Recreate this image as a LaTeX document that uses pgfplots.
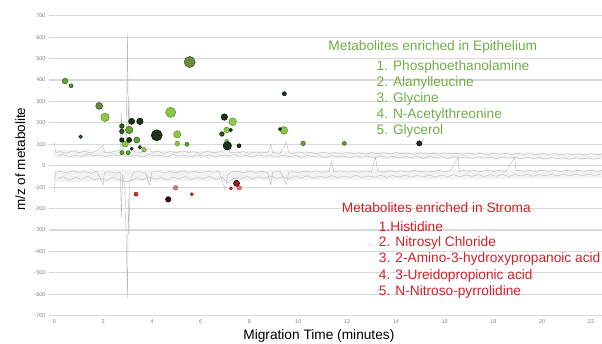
\documentclass[border=0pt]{standalone}
\usepackage{pgfplots}
\pgfplotsset{compat=1.18}
\usepackage{fontspec}
\setmainfont{Liberation Sans}
\definecolor{txtgreen}{RGB}{112,173,71}
\definecolor{txtred}{RGB}{214,30,36}
\definecolor{gridc}{RGB}{217,217,217}
\definecolor{trace}{RGB}{185,185,185}
\definecolor{lgF}{RGB}{140,200,72}
\definecolor{lgD}{RGB}{95,150,50}
\definecolor{mgF}{RGB}{100,162,48}
\definecolor{mgD}{RGB}{60,110,30}
\definecolor{olF}{RGB}{105,140,62}
\definecolor{olD}{RGB}{60,85,35}
\definecolor{dgF}{RGB}{40,95,25}
\definecolor{dgD}{RGB}{20,45,12}
\definecolor{bkF}{RGB}{30,48,26}
\definecolor{bkD}{RGB}{10,20,10}
\definecolor{rdF}{RGB}{205,45,45}
\definecolor{rdD}{RGB}{160,30,30}
\definecolor{pkF}{RGB}{236,110,110}
\definecolor{pkD}{RGB}{210,80,80}
\definecolor{rbF}{RGB}{55,12,12}
\definecolor{rbD}{RGB}{25,5,5}
\pgfplotsset{
  bub/.style 2 args={only marks, scatter, mark=*,
    scatter/use mapped color={draw=#1, fill=#2},
    mark options={line width=0.6pt},
    visualization depends on={\thisrow{r}\as\rad},
    scatter/@pre marker code/.append style={/tikz/mark size=\rad}},
}
\begin{document}
\begin{tikzpicture}
\useasboundingbox (0,0) rectangle (602pt,343pt);
\begin{axis}[
  at={(49pt,27.3pt)}, anchor=south west,
  scale only axis, width=553pt, height=300pt,
  xmin=-0.217, xmax=22.45, ymin=-700, ymax=700,
  clip=false,
  axis line style={draw=none},
  tick style={draw=none},
  ymajorgrids, grid style={gridc, line width=1.1pt},
  ytick={-700,-600,...,700}, xtick={0,2,...,22},
  /pgf/number format/assume math mode=true,
  ticklabel style={font=\fontsize{5.5}{6}\selectfont, text=gray},
  xlabel={Migration Time (minutes)},
  ylabel={m/z of metabolite},
  xlabel style={font=\fontsize{13.7}{15}\selectfont, at={(axis description cs:0.488,-0.078)}, anchor=base},
  ylabel style={font=\fontsize{13.5}{15}\selectfont, at={(axis description cs:-0.0434,0.522)}, anchor=base},
]
% background bands
\addplot[fill=gray!10, draw=none] coordinates {(0,38) (22.45,28) (22.45,60) (0,73)} \closedcycle;
\addplot[fill=gray!10, draw=none] coordinates {(0,-20) (22.45,-20) (22.45,-58) (0,-76)} \closedcycle;
% traces
\addplot[trace, line width=0.4pt] coordinates {(0,108)(0.05,62)(0.25,66)(0.5,58)(0.75,69)(1,61)(1.25,67)(1.5,59)(1.75,70)(2,95)(2.05,63)(2.25,60)(2.5,68)(2.7,72)(2.75,245)(2.8,70)(2.95,115)(3,620)(3.03,160)(3.06,322)(3.1,95)(3.25,66)(3.5,61)(3.75,70)(3.9,82)(4,63)(4.25,67)(4.5,58)(4.75,66)(5,60)(5.25,69)(5.5,62)(5.75,65)(6,57)(6.25,67)(6.5,61)(6.75,64)(7,72)(7.1,98)(7.2,63)(7.5,60)(7.75,66)(8,58)(8.25,64)(8.5,60)(8.75,63)(8.88,101)(8.95,61)(9.25,58)(9.52,107)(9.6,63)(9.75,57)(10,64)(10.25,59)(10.5,62)(10.75,56)(11,63)(11.25,58)(11.5,61)(11.75,55)(12,62)(12.25,57)(12.5,60)(12.75,54)(13,61)(13.25,56)(13.5,60)(13.75,55)(14,61)(14.25,56)(14.5,59)(14.75,53)(15,60)(15.25,55)(15.5,58)(15.75,54)(16,59)(16.25,55)(16.5,58)(16.75,53)(17,59)(17.25,54)(17.5,57)(17.75,52)(18,58)(18.25,54)(18.5,57)(18.75,52)(19,58)(19.25,53)(19.5,56)(19.75,51)(20,57)(20.25,53)(20.5,56)(20.75,51)(21,56)(21.25,52)(21.5,55)(21.75,50)(22,56)(22.25,52)(22.45,54)};
\addplot[trace, line width=0.4pt] coordinates {(0.125,45)(0.375,52)(0.625,41)(0.875,49)(1.125,43)(1.375,55)(1.625,46)(1.875,50)(2.125,42)(2.375,51)(2.625,47)(2.875,53)(3.125,44)(3.375,50)(3.625,40)(3.875,52)(4.125,46)(4.375,49)(4.625,41)(4.875,53)(5.125,45)(5.375,48)(5.625,42)(5.875,51)(6.125,44)(6.375,50)(6.625,40)(6.875,49)(7.125,46)(7.375,52)(7.625,43)(7.875,48)(8.125,41)(8.375,50)(8.625,44)(8.875,47)(9.125,40)(9.375,49)(9.625,43)(9.875,47)(10.125,39)(10.375,48)(10.625,42)(10.875,46)(11.125,38)(11.375,47)(11.625,41)(11.875,45)(12.125,37)(12.375,46)(12.625,40)(12.875,44)(13.125,36)(13.375,45)(13.625,39)(13.875,44)(14.125,36)(14.375,44)(14.625,38)(14.875,43)(15.125,35)(15.375,43)(15.625,37)(15.875,42)(16.125,34)(16.375,42)(16.625,36)(16.875,41)(17.125,34)(17.375,41)(17.625,35)(17.875,40)(18.125,33)(18.375,40)(18.625,35)(18.875,39)(19.125,32)(19.375,39)(19.625,34)(19.875,38)(20.125,31)(20.375,38)(20.625,33)(20.875,37)(21.125,30)(21.375,37)(21.625,32)(21.875,36)(22.125,30)(22.375,35)};
\addplot[trace, line width=0.4pt] coordinates {(0,-112)(0.05,-30)(0.25,-26)(0.5,-34)(0.75,-24)(1,-31)(1.25,-27)(1.5,-36)(1.75,-25)(2,-90)(2.05,-32)(2.25,-28)(2.5,-35)(2.7,-30)(2.75,-240)(2.8,-40)(2.9,-110)(3,-620)(3.03,-150)(3.06,-320)(3.1,-70)(3.25,-30)(3.5,-27)(3.75,-35)(3.9,-90)(4,-30)(4.25,-25)(4.5,-33)(4.75,-27)(5,-34)(5.25,-24)(5.5,-31)(5.75,-26)(6,-33)(6.25,-25)(6.5,-30)(6.75,-27)(7,-112)(7.1,-45)(7.25,-30)(7.5,-26)(7.75,-33)(8,-25)(8.25,-31)(8.5,-26)(8.75,-32)(8.88,-90)(8.95,-30)(9.25,-25)(9.52,-88)(9.6,-31)(9.75,-27)(10,-33)(10.25,-25)(10.5,-30)(10.75,-24)(11,-31)(11.25,-26)(11.37,20)(11.45,-29)(11.75,-24)(12,-30)(12.25,-25)(12.5,-31)(12.75,-23)(13,-29)(13.17,40)(13.25,-24)(13.5,-30)(13.75,-23)(14,-29)(14.25,-24)(14.5,-30)(14.75,-22)(15,-28)(15.25,-24)(15.5,-29)(15.75,-22)(16,-28)(16.25,-23)(16.55,40)(16.6,-29)(16.75,-22)(17,-27)(17.25,-23)(17.5,-28)(17.75,-21)(18,-27)(18.25,-22)(18.5,-28)(18.87,40)(18.92,-21)(19.25,-26)(19.5,-22)(19.75,-27)(20,-21)(20.25,-26)(20.5,-22)(20.75,-27)(21,-21)(21.25,-26)(21.5,-22)(21.75,-27)(22,-21)(22.25,-26)(22.45,-23)};
\addplot[trace, line width=0.4pt] coordinates {(0.125,-60)(0.375,-52)(0.625,-68)(0.875,-55)(1.125,-63)(1.375,-50)(1.625,-66)(1.875,-57)(2.125,-70)(2.375,-54)(2.625,-64)(2.875,-75)(3.125,-72)(3.375,-56)(3.625,-66)(3.875,-52)(4.125,-64)(4.375,-55)(4.625,-67)(4.875,-53)(5.125,-62)(5.375,-50)(5.625,-65)(5.875,-55)(6.125,-61)(6.375,-49)(6.625,-64)(6.875,-54)(7.125,-80)(7.375,-58)(7.625,-63)(7.875,-50)(8.125,-61)(8.375,-52)(8.625,-60)(8.875,-48)(9.125,-59)(9.375,-51)(9.625,-60)(9.875,-48)(10.125,-57)(10.375,-47)(10.625,-58)(10.875,-49)(11.125,-56)(11.375,-46)(11.625,-57)(11.875,-48)(12.125,-55)(12.375,-45)(12.625,-56)(12.875,-47)(13.125,-54)(13.375,-44)(13.625,-55)(13.875,-46)(14.125,-53)(14.375,-44)(14.625,-54)(14.875,-45)(15.125,-52)(15.375,-43)(15.625,-53)(15.875,-44)(16.125,-51)(16.375,-42)(16.625,-52)(16.875,-43)(17.125,-50)(17.375,-42)(17.625,-51)(17.875,-42)(18.125,-49)(18.375,-41)(18.625,-50)(18.875,-41)(19.125,-48)(19.375,-40)(19.625,-49)(19.875,-41)(20.125,-47)(20.375,-40)(20.625,-48)(20.875,-40)(21.125,-46)(21.375,-39)(21.625,-47)(21.875,-39)(22.125,-45)(22.375,-40)};
% epithelium bubbles
\addplot[bub={olD}{olF}] table {
x y r
0.69 373 2.0
1.84 279 3.4
5.55 484 5.5
};
\addplot[bub={mgD}{mgF}] table {
x y r
0.44 395 2.8
3.38 120 3.0
3.07 167 3.7
2.77 61 2.0
3.03 61 2.0
5.44 100 2.0
10.2 104 2.2
11.89 104 2.0
};
\addplot[bub={lgD}{lgF}] table {
x y r
2.08 226 4.2
2.91 101 3.0
3.68 75 2.2
4.77 249 5.0
5.04 146 3.6
5.04 103 2.3
7.31 205 3.8
7.07 167 2.8
9.41 165 3.8
7.07 114 2.0
};
\addplot[bub={dgD}{dgF}] table {
x y r
1.08 135 1.8
2.77 185 2.3
2.77 160 2.3
3.51 86 1.8
6.87 148 2.3
};
\addplot[bub={bkD}{bkF}] table {
x y r
2.77 120 2.2
3.07 120 2.5
3.17 207 3.0
3.51 207 3.2
3.17 79 1.5
4.20 142 5.5
6.97 227 3.2
7.09 93 4.2
7.23 167 1.8
7.57 93 2.0
9.43 336 2.0
9.25 171 1.5
14.96 104 2.6
};
% stroma bubbles
\addplot[bub={rdD}{rdF}] table {
x y r
3.35 -133 2.0
5.64 -133 1.6
7.24 -106 1.5
};
\addplot[bub={pkD}{pkF}] table {
x y r
4.97 -103 2.2
7.58 -103 2.2
};
\addplot[bub={rbD}{rbF}] table {
x y r
4.67 -157 2.7
};
\addplot[bub={rbD}{rdD}] table {
x y r
7.47 -82 3.0
};
% annotations
\begin{scope}[every node/.style={font=\fontsize{13.7}{15}\selectfont, anchor=base west, inner sep=0pt}]
\node[text=txtgreen] at (axis cs:11.23,538) {Metabolites enriched in Epithelium};
\node[text=txtgreen] at (axis cs:13.2,444) {1. Phosphoethanolamine};
\node[text=txtgreen] at (axis cs:13.2,370) {2. Alanylleucine};
\node[text=txtgreen] at (axis cs:13.2,294) {3. Glycine};
\node[text=txtgreen] at (axis cs:13.2,220) {4. N-Acetylthreonine};
\node[text=txtgreen] at (axis cs:13.2,146) {5. Glycerol};
\node[text=txtred] at (axis cs:11.78,-220) {Metabolites enriched in Stroma};
\node[text=txtred] at (axis cs:13.3,-305) {1.Histidine};
\node[text=txtred] at (axis cs:13.3,-378) {2. Nitrosyl Chloride};
\node[text=txtred] at (axis cs:13.3,-453) {3. 2-Amino-3-hydroxypropanoic acid};
\node[text=txtred] at (axis cs:13.3,-531) {4. 3-Ureidopropionic acid};
\node[text=txtred] at (axis cs:13.3,-606) {5. N-Nitroso-pyrrolidine};
\end{scope}
\end{axis}
\end{tikzpicture}
\end{document}
